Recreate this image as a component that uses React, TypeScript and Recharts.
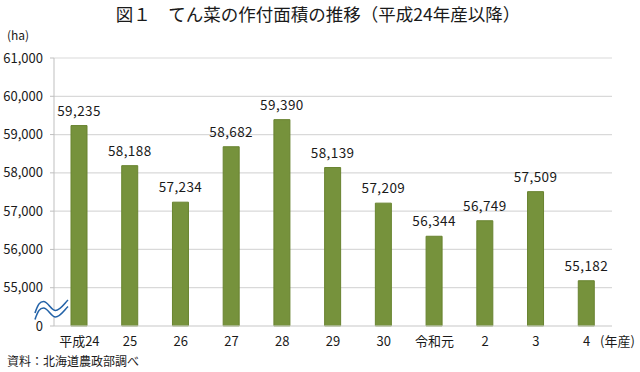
import React from 'react';
import { BarChart, Bar, XAxis, YAxis, CartesianGrid, LabelList } from 'recharts';

const categories = ['平成24', '25', '26', '27', '28', '29', '30', '令和元', '2', '3', '4'];
const areas = [59235, 58188, 57234, 58682, 59390, 58139, 57209, 56344, 56749, 57509, 55182];
// The axis is broken: the tick labelled "0" sits one step below 55,000.
const breakBase = 54000;
const yTicks = [0, 1000, 2000, 3000, 4000, 5000, 6000, 7000];

const data = categories.map((name, i) => ({
  name,
  value: areas[i],
  plot: areas[i] - breakBase,
}));

const FONT = '"Noto Sans CJK JP", "Noto Sans", sans-serif';

const fmt = (v: number) => v.toLocaleString('en-US');

export default function App() {
  const upper = 'M35,313 C38,304 40,301.5 43.5,301.5 C48,301.5 51,310.5 55.5,310.5 C60,310.5 64,304 68,300';
  const lowerD = 6.5;
  const lower = `M35,${313 + lowerD} C38,${304 + lowerD} 40,${301.5 + lowerD} 43.5,${301.5 + lowerD} C48,${301.5 + lowerD} 51,${310.5 + lowerD} 55.5,${310.5 + lowerD} C60,${310.5 + lowerD} 64,${304 + lowerD} 68,${300 + lowerD}`;
  const fillBand = `${upper} L68,${300 + lowerD} C64,${304 + lowerD} 60,${310.5 + lowerD} 55.5,${310.5 + lowerD} C51,${310.5 + lowerD} 48,${301.5 + lowerD} 43.5,${301.5 + lowerD} C40,${301.5 + lowerD} 38,${304 + lowerD} 35,${313 + lowerD} Z`;

  return (
    <div style={{ position: 'absolute', left: 0, top: 0, width: 640, height: 372, background: '#fff', fontFamily: FONT }}>
      <BarChart
        width={640}
        height={372}
        data={data}
        margin={{ top: 58, right: 28, bottom: 16, left: 0 }}
      >
        <CartesianGrid vertical={false} stroke="#D9D9D9" strokeWidth={1.2} />
        <XAxis
          dataKey="name"
          height={30}
          axisLine={{ stroke: '#D9D9D9', strokeWidth: 1.2 }}
          tickLine={false}
          tickSize={0}
          tickMargin={11}
          interval={0}
          tick={{ fill: '#1a1a1a', fontSize: 13, fontFamily: FONT }}
        />
        <YAxis
          width={54}
          domain={[0, 7000]}
          ticks={yTicks}
          interval={0}
          tickFormatter={(v: number) => (v === 0 ? '0' : fmt(v + breakBase))}
          axisLine={{ stroke: '#BFBFBF' }}
          tickLine={{ stroke: '#BFBFBF' }}
          tickSize={4}
          tickMargin={7}
          tick={{ fill: '#1a1a1a', fontSize: 13, fontFamily: FONT }}
        />
        <Bar dataKey="plot" barSize={16} fill="#76923C" stroke="#68832F" strokeWidth={1} isAnimationActive={false}>
          <LabelList
            dataKey="value"
            position="top"
            offset={10}
            formatter={(v: any) => fmt(Number(v))}
            style={{ fill: '#1a1a1a', fontSize: 13.5, fontFamily: FONT, letterSpacing: 0.4 }}
          />
        </Bar>
      </BarChart>
      <svg
        width={640}
        height={372}
        style={{ position: 'absolute', left: 0, top: 0, pointerEvents: 'none' }}
      >
        <text x={318} y={21} textAnchor="middle" fontSize={17.5} fill="#1a1a1a" fontFamily={FONT}>
          図１　てん菜の作付面積の推移（平成24年産以降）
        </text>
        <text x={7} y={40} fontSize={12} fill="#1a1a1a" fontFamily={FONT}>(ha)</text>
        <text x={600} y={346} fontSize={13} fill="#1a1a1a" fontFamily={FONT}>(年産)</text>
        <text x={7} y={366} fontSize={12} fill="#1a1a1a" fontFamily={FONT}>資料：北海道農政部調べ</text>
        <path d={fillBand} fill="#fff" stroke="none" />
        <path d={upper} fill="none" stroke="#2463A8" strokeWidth={1.6} />
        <path d={lower} fill="none" stroke="#2463A8" strokeWidth={1.6} />
      </svg>
    </div>
  );
}
